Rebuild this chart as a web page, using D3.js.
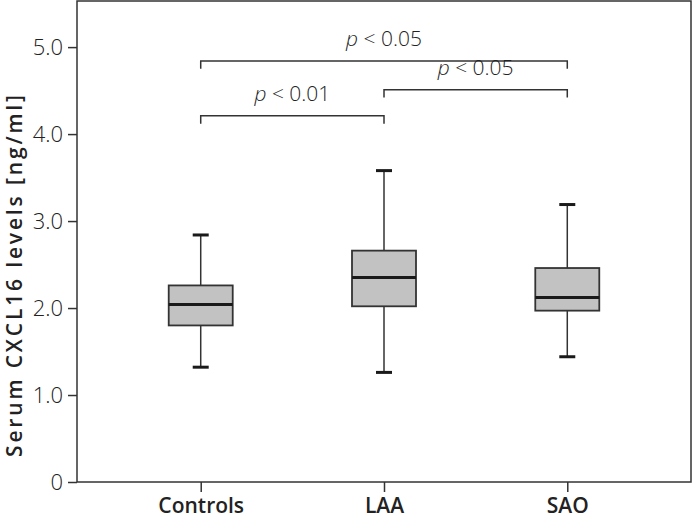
<html><head>
<title>Serum CXCL16 levels</title>
<style>
body { margin: 0; background: #fff; }
svg text { font-family: "Open Sans", "DejaVu Sans", sans-serif; fill: #222; }
.tick text { font-size: 22px; font-weight: 300; }
.ptext { font-size: 21px; font-weight: 300; }
.ytitle { font-size: 21px; font-weight: 600; }
</style>
<script src="https://cdn.jsdelivr.net/npm/d3@7"></script>
</head>
<body>
<div id="chart"></div>
<script>
// groups and box stats
const groups = ["Controls", "LAA", "SAO"];
const whiskerLow = [1.32, 1.26, 1.44];
const q1 = [1.80, 2.02, 1.97];
const median = [2.04, 2.35, 2.12];
const q3 = [2.26, 2.66, 2.46];
const whiskerHigh = [2.84, 3.58, 3.19];
const yTicks = [0, 1, 2, 3, 4, 5];
const yTickLabels = ["0", "1.0", "2.0", "3.0", "4.0", "5.0"];

// significance brackets
const bracketFrom = ["Controls", "LAA", "Controls"];
const bracketTo = ["SAO", "SAO", "LAA"];
const bracketLevel = [4.84, 4.51, 4.21];
const bracketText = ["< 0.05", "< 0.05", "< 0.01"];

const W = 693, H = 519;
const margin = {top: 1, right: 2, bottom: 37, left: 77};

const svg = d3.select("#chart").append("svg")
    .attr("width", W)
    .attr("height", H);

const x = d3.scalePoint()
    .domain(groups)
    .range([margin.left, W - margin.right])
    .padding(0.675);

const y = d3.scaleLinear()
    .domain([0, 5.53])
    .range([H - margin.bottom, margin.top]);

// frame
svg.append("rect")
    .attr("x", margin.left)
    .attr("y", margin.top)
    .attr("width", W - margin.right - margin.left)
    .attr("height", H - margin.bottom - margin.top)
    .attr("fill", "none")
    .attr("stroke", "#333")
    .attr("stroke-width", 1.5);

// y axis
const yAxis = svg.append("g")
    .attr("transform", "translate(" + margin.left + ",0)")
    .call(d3.axisLeft(y).tickValues(yTicks).tickFormat((d, i) => yTickLabels[i]).tickSize(9).tickPadding(5));
yAxis.select(".domain").remove();
yAxis.selectAll(".tick line").attr("stroke", "#333").attr("stroke-width", 1.5);
yAxis.selectAll(".tick text").attr("fill", "#222");

// x axis
const xAxis = svg.append("g")
    .attr("transform", "translate(0," + (H - margin.bottom) + ")")
    .call(d3.axisBottom(x).tickSize(10).tickPadding(0));
xAxis.select(".domain").remove();
xAxis.selectAll(".tick line").attr("stroke", "#333").attr("stroke-width", 1.5);
xAxis.selectAll(".tick text")
    .attr("dy", null)
    .attr("y", 31)
    .attr("fill", "#222")
    .style("font-size", "21px")
    .style("font-weight", 600);

svg.append("text")
    .attr("class", "ytitle")
    .attr("transform", "translate(22,276) rotate(-90)")
    .attr("text-anchor", "middle")
    .attr("textLength", 362)
    .attr("lengthAdjust", "spacing")
    .text("Serum CXCL16 levels [ng/ml]");

// boxes
const boxW = 64, capW = 16;
const box = svg.append("g").selectAll("g")
    .data(groups)
    .join("g");

box.append("line")
    .attr("x1", d => x(d)).attr("x2", d => x(d))
    .attr("y1", (d, i) => y(whiskerHigh[i]))
    .attr("y2", (d, i) => y(whiskerLow[i]))
    .attr("stroke", "#333").attr("stroke-width", 1.5);

box.append("rect")
    .attr("x", d => x(d) - boxW / 2)
    .attr("width", boxW)
    .attr("y", (d, i) => y(q3[i]))
    .attr("height", (d, i) => y(q1[i]) - y(q3[i]))
    .attr("fill", "#c2c2c2")
    .attr("stroke", "#333")
    .attr("stroke-width", 1.8);

box.append("line")
    .attr("x1", d => x(d) - boxW / 2).attr("x2", d => x(d) + boxW / 2)
    .attr("y1", (d, i) => y(median[i])).attr("y2", (d, i) => y(median[i]))
    .attr("stroke", "#1a1a1a").attr("stroke-width", 3);

[whiskerHigh, whiskerLow].forEach(arr => {
  box.append("line")
      .attr("x1", d => x(d) - capW / 2).attr("x2", d => x(d) + capW / 2)
      .attr("y1", (d, i) => y(arr[i])).attr("y2", (d, i) => y(arr[i]))
      .attr("stroke", "#1a1a1a").attr("stroke-width", 3);
});

// brackets
const tickDrop = 0.09;
const br = svg.append("g").selectAll("g")
    .data(bracketLevel)
    .join("g");

br.append("path")
    .attr("d", (d, i) => {
      const x1 = x(bracketFrom[i]), x2 = x(bracketTo[i]);
      return "M" + x1 + "," + y(d - tickDrop) + "V" + y(d) + "H" + x2 + "V" + y(d - tickDrop);
    })
    .attr("fill", "none")
    .attr("stroke", "#333")
    .attr("stroke-width", 1.5);

const pt = br.append("text")
    .attr("class", "ptext")
    .attr("text-anchor", "middle")
    .attr("x", (d, i) => (x(bracketFrom[i]) + x(bracketTo[i])) / 2)
    .attr("y", d => y(d) - 15);
pt.append("tspan").style("font-style", "italic").text("p");
pt.append("tspan").text((d, i) => " " + bracketText[i]);
</script>
</body></html>
